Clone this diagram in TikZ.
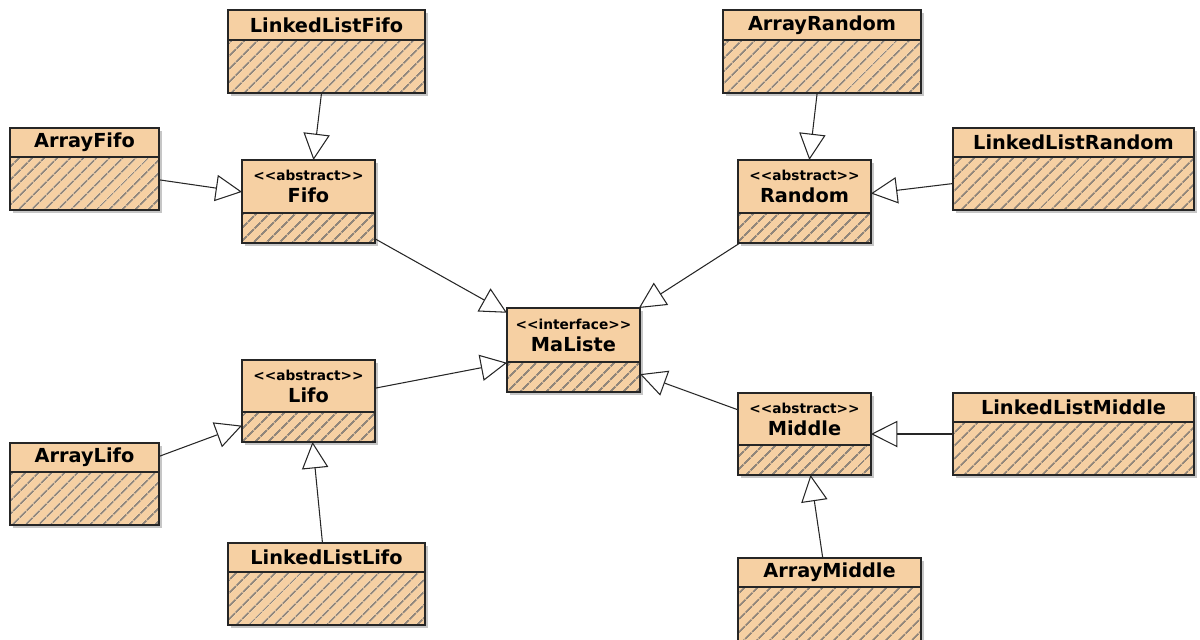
\documentclass[tikz,border=0pt]{standalone}
\usepackage{fontspec}
\setmainfont{DejaVu Sans}
\usepackage{xcolor}
\usepackage{tikz}
\usetikzlibrary{arrows.meta,patterns.meta,fit,shadows}
\definecolor{classfill}{RGB}{246,208,163}
\definecolor{hatchgrey}{RGB}{145,134,122}
\newcommand{\stereo}[1]{{\fontsize{7.8}{8}\selectfont <{}<#1>{}>}}
% name, x1, y1, x2, y2, y of separator, title
\newcommand{\umlclass}[7]{%
  \node[clsbox, fit={(#2,#3) (#4,#5)}] (#1) {};
  \fill[hatch] (#2,#6) rectangle (#4,#5);
  \draw[clsline] (#2,#6) -- (#4,#6);
  \draw[clsline] (#2,#3) rectangle (#4,#5);
  \node[clstitle] at ({(#2+#4)/2},{(#3+#6)/2}) {#7};
}

\begin{document}
\begin{tikzpicture}[x=0.02cm, y=-0.02cm,
  clsbox/.style={fill=classfill, inner sep=0pt, outer sep=0pt,
                 drop shadow={shadow xshift=1.6pt, shadow yshift=-1.6pt, opacity=0.45}},
  clsline/.style={draw=black!85, line width=0.7pt},
  hatch/.style={pattern={Lines[angle=45, distance=5.4pt, line width=1.1pt]}, pattern color=hatchgrey},
  clstitle/.style={align=center, font=\fontsize{11}{12.5}\selectfont\bfseries, inner sep=0pt},
  gen/.style={-{Triangle[open, length=15pt, width=15pt, fill=white]}, line width=0.6pt, black!85}]
\useasboundingbox (0,0) rectangle (1200,639);
% top row
\umlclass{llfifo}{228}{10}{425}{93}{40}{LinkedListFifo}
\umlclass{arrayrandom}{723}{10}{921}{93}{40}{ArrayRandom}
\umlclass{arrayfifo}{10}{128}{159}{210}{157}{ArrayFifo}
\umlclass{llrandom}{953}{128}{1194}{210}{157}{LinkedListRandom}
% abstract classes and interface
\umlclass{fifo}{242}{160}{375}{243}{213}{\stereo{abstract}\\Fifo}
\umlclass{random}{738}{160}{871}{243}{213}{\stereo{abstract}\\Random}
\umlclass{maliste}{507}{308}{640}{392}{362}{\stereo{interface}\\MaListe}
\umlclass{lifo}{242}{360}{375}{442}{412}{\stereo{abstract}\\Lifo}
\umlclass{middle}{738}{393}{871}{475}{445}{\stereo{abstract}\\Middle}
% bottom row
\umlclass{arraylifo}{10}{443}{159}{525}{472}{ArrayLifo}
\umlclass{llmiddle}{953}{393}{1194}{475}{422}{LinkedListMiddle}
\umlclass{lllifo}{228}{543}{425}{625}{572}{LinkedListLifo}
\umlclass{arraymiddle}{738}{558}{921}{650}{587}{ArrayMiddle}
% generalisations
\draw[gen] (llfifo) -- (fifo);
\draw[gen] (arrayfifo) -- (fifo);
\draw[gen] (arrayrandom) -- (random);
\draw[gen] (llrandom) -- (random);
\draw[gen] (fifo) -- (maliste);
\draw[gen] (random) -- (maliste);
\draw[gen] (lifo) -- (maliste);
\draw[gen] (middle) -- (maliste);
\draw[gen] (arraylifo) -- (lifo);
\draw[gen] (lllifo) -- (lifo);
\draw[gen] (llmiddle) -- (middle);
\draw[gen] (arraymiddle) -- (middle);
\end{tikzpicture}
\end{document}
